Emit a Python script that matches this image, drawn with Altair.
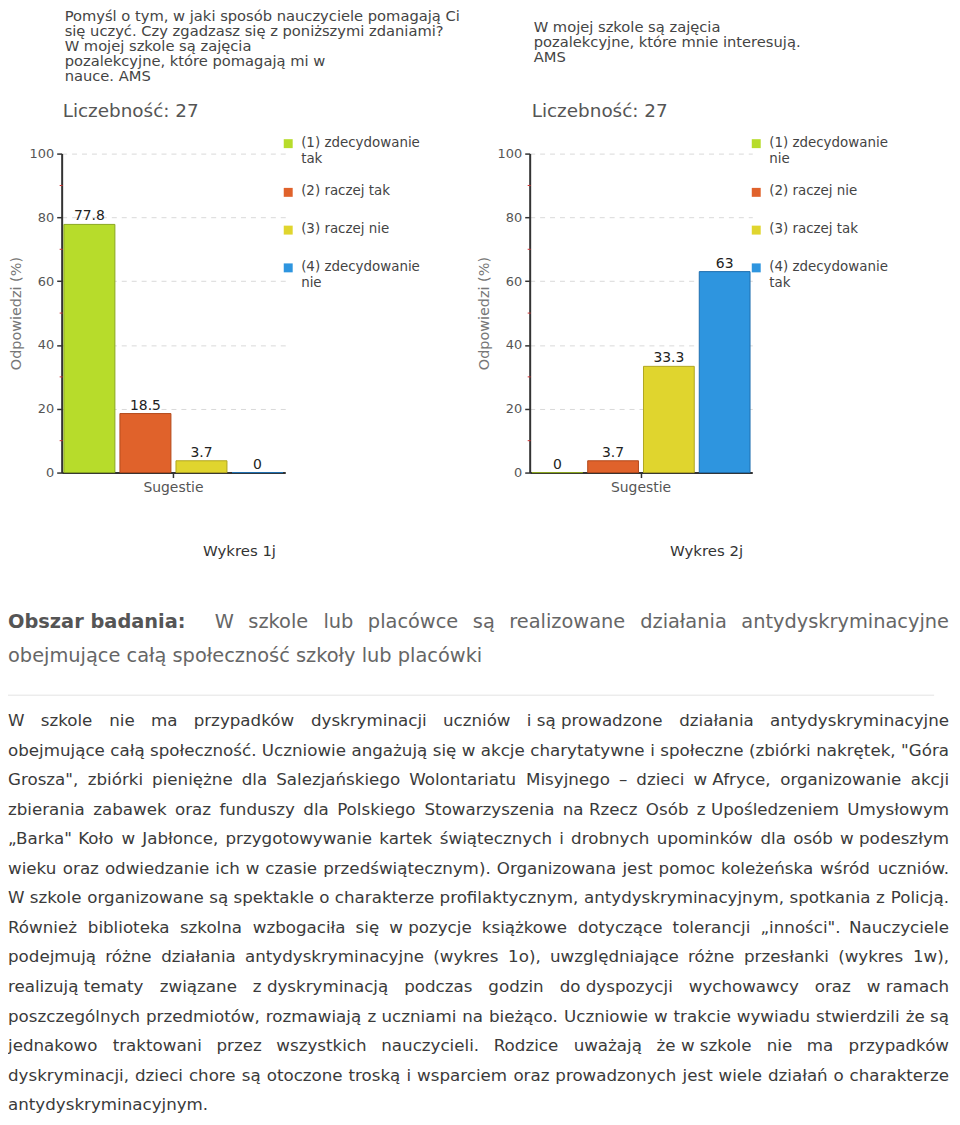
import altair as alt
import pandas as pd

# ------------------------------------------------------------------ data
CATEGORY = ["Sugestie"]
ANSWERS_1 = ["(1) zdecydowanie tak", "(2) raczej tak", "(3) raczej nie", "(4) zdecydowanie nie"]
VALUES_1 = [77.8, 18.5, 3.7, 0]
ANSWERS_2 = ["(1) zdecydowanie nie", "(2) raczej nie", "(3) raczej tak", "(4) zdecydowanie tak"]
VALUES_2 = [0, 3.7, 33.3, 63]
Y_TICKS = [0, 20, 40, 60, 80, 100]
MINOR_TICKS = [10, 30, 50, 70, 90]
AXIS_TITLE = "Odpowiedzi (%)"

TITLE_1 = ["Pomyśl o tym, w jaki sposób nauczyciele pomagają Ci",
           "się uczyć. Czy zgadzasz się z poniższymi zdaniami?",
           "W mojej szkole są zajęcia",
           "pozalekcyjne, które pomagają mi w",
           "nauce. AMS"]
TITLE_2 = ["W mojej szkole są zajęcia",
           "pozalekcyjne, które mnie interesują.",
           "AMS"]
COUNT_TEXT = ["Liczebność: 27", "Liczebność: 27"]
CAPTIONS = ["Wykres 1j", "Wykres 2j"]

HEAD_LABEL = "Obszar badania:"
HEAD_LINE_1 = "W szkole lub placówce są realizowane działania antydyskryminacyjne"
HEAD_LINE_2 = "obejmujące całą społeczność szkoły lub placówki"

BODY_LINES = [
    "W szkole nie ma przypadków dyskryminacji uczniów i\u00a0są\u00a0prowadzone działania antydyskryminacyjne",
    "obejmujące całą społeczność. Uczniowie angażują się w\u00a0akcje charytatywne i społeczne (zbiórki nakrętek, \"Góra",
    "Grosza\", zbiórki pieniężne dla Salezjańskiego Wolontariatu Misyjnego – dzieci w\u00a0Afryce, organizowanie akcji",
    "zbierania zabawek oraz funduszy dla Polskiego Stowarzyszenia na\u00a0Rzecz Osób z\u00a0Upośledzeniem Umysłowym",
    "„Barka\" Koło w Jabłonce, przygotowywanie kartek świątecznych i drobnych upominków dla osób w\u00a0podeszłym",
    "wieku oraz odwiedzanie ich w czasie przedświątecznym). Organizowana jest pomoc koleżeńska wśród uczniów.",
    "W szkole organizowane są spektakle o charakterze profilaktycznym, antydyskryminacyjnym, spotkania z Policją.",
    "Również biblioteka szkolna wzbogaciła się w\u00a0pozycje książkowe dotyczące tolerancji „inności\". Nauczyciele",
    "podejmują różne działania antydyskryminacyjne (wykres 1o), uwzględniające różne przesłanki (wykres 1w),",
    "realizują\u00a0tematy związane z\u00a0dyskryminacją podczas godzin do\u00a0dyspozycji wychowawcy oraz w\u00a0ramach",
    "poszczególnych przedmiotów, rozmawiają z\u00a0uczniami na bieżąco. Uczniowie w trakcie wywiadu stwierdzili że\u00a0są",
    "jednakowo traktowani przez wszystkich nauczycieli. Rodzice uważają że\u00a0w\u00a0szkole nie ma przypadków",
    "dyskryminacji, dzieci chore są otoczone troską i wsparciem oraz prowadzonych jest wiele działań o charakterze",
    "antydyskryminacyjnym.",
]

# ------------------------------------------------------------------ styles / layout
FILLS = ["#b7dc2b", "#e0622b", "#e0d52e", "#2e95df"]
STROKES = ["#8aa61f", "#b24a1c", "#b0a520", "#1f6fae"]
FONT = "DejaVu Sans"
W, H = 950, 1109
PLOT_TOP, PLOT_BOTTOM = 143, 464
PANEL_X = [(54, 279), (525, 749)]
LEGEND_X = [282, 753]
LEGEND_Y0, LEGEND_STEP, LEGEND_EXTRA_LINE = 133, 38, 11

# approximate DejaVu Sans advance widths (units per em = 2048), used to justify text
_W = {' ': 651, '\u00a0': 651, '!': 821, '"': 942, '(': 799, ')': 799, ',': 651, '-': 739, '.': 651,
      ':': 690, '%': 1946, '–': 1024, '„': 842,
      'A': 1401, 'B': 1405, 'C': 1430, 'D': 1577, 'E': 1294, 'F': 1178, 'G': 1587, 'H': 1540, 'I': 604,
      'J': 604, 'K': 1343, 'L': 1141, 'M': 1767, 'N': 1532, 'O': 1612, 'P': 1235, 'Q': 1612, 'R': 1423,
      'S': 1300, 'T': 1251, 'U': 1499, 'V': 1401, 'W': 2025, 'X': 1403, 'Y': 1251, 'Z': 1403,
      'a': 1255, 'b': 1300, 'c': 1126, 'd': 1300, 'e': 1260, 'f': 721, 'g': 1300, 'h': 1298, 'i': 569,
      'j': 569, 'k': 1186, 'l': 569, 'm': 1995, 'n': 1298, 'o': 1253, 'p': 1300, 'q': 1300, 'r': 842,
      's': 1067, 't': 803, 'u': 1298, 'v': 1212, 'w': 1675, 'x': 1212, 'y': 1212, 'z': 1075}
for d in '0123456789':
    _W[d] = 1303
_ACC = {'ą': 'a', 'ć': 'c', 'ę': 'e', 'ł': 'l', 'ń': 'n', 'ó': 'o', 'ś': 's', 'ź': 'z', 'ż': 'z',
        'Ł': 'L', 'Ś': 'S', 'Ó': 'O', 'Ż': 'Z', 'Ź': 'Z', 'Ć': 'C'}


def text_w(s, size):
    return sum(_W.get(_ACC.get(c, c), 1200) for c in s) / 2048.0 * size


def justify(line, x_left, x_right, size):
    tokens = line.split(" ")
    widths = [text_w(t, size) for t in tokens]
    gap = (x_right - x_left - sum(widths)) / max(len(tokens) - 1, 1)
    xs, x = [], x_left
    for w in widths:
        xs.append(x)
        x += w + gap
    return tokens, xs


def text_layer(df, **kw):
    return alt.Chart(df).mark_text(**kw).encode(
        x=alt.X("x:Q", scale=None, axis=None),
        y=alt.Y("y:Q", scale=None, axis=None),
        text=alt.Text("text:N"),
    )


def bar_panel(answers, values, xr):
    df = pd.DataFrame({"cat": CATEGORY * len(answers), "answer": answers, "value": values})
    x = alt.X("cat:N",
              scale=alt.Scale(domain=CATEGORY, range=list(xr), paddingInner=0, paddingOuter=0),
              axis=alt.Axis(orient="bottom", offset=PLOT_BOTTOM - H, title=None, labelAngle=0,
                            labelFont=FONT, labelFontSize=14, labelColor="#555",
                            domainColor="#333", domainWidth=2, tickColor="#333", tickSize=5,
                            tickWidth=1.5, labelPadding=3, grid=False))
    xo = alt.XOffset("answer:N", scale=alt.Scale(domain=answers, paddingInner=0.09, paddingOuter=0.04))
    y = alt.Y("value:Q",
              scale=alt.Scale(domain=[0, 100], range=[PLOT_BOTTOM, PLOT_TOP], nice=False),
              axis=alt.Axis(orient="left", offset=-xr[0], values=Y_TICKS, grid=True,
                            gridDash=[5, 5], gridColor="#d9d9d9", gridWidth=1,
                            domainColor="#333", domainWidth=2, tickColor="#333", tickSize=5,
                            tickWidth=1.5, labelFont=FONT, labelFontSize=13, labelColor="#555",
                            labelPadding=3, title=AXIS_TITLE, titleFont=FONT, titleFontSize=14.5,
                            titleFontWeight="normal", titleColor="#777", titlePadding=6))
    color = alt.Color("answer:N", scale=alt.Scale(domain=answers, range=FILLS), legend=None)
    stroke = alt.Stroke("answer:N", scale=alt.Scale(domain=answers, range=STROKES), legend=None)
    bars = alt.Chart(df).mark_bar(strokeWidth=1).encode(x=x, xOffset=xo, y=y, color=color, stroke=stroke)
    labels = alt.Chart(df).mark_text(baseline="alphabetic", dy=-4, font=FONT, fontSize=14,
                                     color="#222").encode(
        x=alt.X("cat:N"), xOffset=alt.XOffset("answer:N"), y=alt.Y("value:Q"),
        text=alt.Text("value:Q"))
    minor = alt.Chart(pd.DataFrame({"minor": MINOR_TICKS})).mark_rule(
        color="#cc3333", strokeWidth=1).encode(
        y=alt.Y("minor:Q"), x=alt.value(xr[0] - 2), x2=alt.value(xr[0] + 1))
    return alt.layer(bars, minor, labels)


def legend_layers(answers, lx):
    labels = [a.replace("zdecydowanie ", "zdecydowanie\n") for a in answers]
    ys, y = [], LEGEND_Y0
    for lab in labels:
        ys.append(y)
        y += LEGEND_STEP + LEGEND_EXTRA_LINE * lab.count("\n")
    df = pd.DataFrame({"answer": answers, "text": labels, "y": ys,
                       "x": [lx] * len(answers), "tx": [lx + 13] * len(answers)})
    sq = alt.Chart(df).mark_square(size=81, opacity=1).encode(
        x=alt.X("x:Q", scale=None, axis=None), y=alt.Y("y:Q", scale=None, axis=None),
        color=alt.Color("answer:N", scale=alt.Scale(domain=answers, range=FILLS), legend=None))
    tx = alt.Chart(df).mark_text(align="left", baseline="top", dy=-8, font=FONT, fontSize=13.5,
                                 color="#444", lineBreak="\n", lineHeight=16).encode(
        x=alt.X("tx:Q", scale=None, axis=None), y=alt.Y("y:Q", scale=None, axis=None),
        text=alt.Text("text:N"))
    return [sq, tx]


panel1 = bar_panel(ANSWERS_1, VALUES_1, PANEL_X[0])
panel2 = bar_panel(ANSWERS_2, VALUES_2, PANEL_X[1])
leg1 = legend_layers(ANSWERS_1, LEGEND_X[0])
leg2 = legend_layers(ANSWERS_2, LEGEND_X[1])

# titles above the panels
titles_df = pd.DataFrame({"text": ["\n".join(TITLE_1), "\n".join(TITLE_2)],
                          "x": [57, 529], "y": [10, 21]})
titles = text_layer(titles_df, align="left", baseline="alphabetic", font=FONT, fontSize=14.8,
                    color="#444", lineBreak="\n", lineHeight=15)
count_df = pd.DataFrame({"text": COUNT_TEXT, "x": [55, 527], "y": [106, 106]})
counts = text_layer(count_df, align="left", baseline="alphabetic", font=FONT, fontSize=18.5,
                    color="#555")
cap_df = pd.DataFrame({"text": CAPTIONS, "x": [233, 703], "y": [548, 548]})
caps = text_layer(cap_df, align="center", baseline="alphabetic", font=FONT, fontSize=15,
                  color="#333")

# heading
HEAD_SIZE = 19.5
head_bold = text_layer(pd.DataFrame({"text": [HEAD_LABEL], "x": [0], "y": [620]}),
                       align="left", baseline="alphabetic", font=FONT, fontSize=HEAD_SIZE,
                       fontWeight="bold", color="#555")
htoks, hxs = justify(HEAD_LINE_1, 208, 947, HEAD_SIZE)
head_left = text_layer(pd.DataFrame({"text": htoks[:-1] + [HEAD_LINE_2],
                                     "x": hxs[:-1] + [0],
                                     "y": [620] * (len(htoks) - 1) + [655]}),
                       align="left", baseline="alphabetic", font=FONT, fontSize=HEAD_SIZE,
                       color="#666")
head_right = text_layer(pd.DataFrame({"text": [htoks[-1]], "x": [947], "y": [620]}),
                        align="right", baseline="alphabetic", font=FONT, fontSize=HEAD_SIZE,
                        color="#666")

rule = alt.Chart(pd.DataFrame({"a": [0]})).mark_rule(color="#e3e3e3", strokeWidth=1).encode(
    x=alt.value(0), x2=alt.value(932), y=alt.value(688))

# body text, justified
BODY_SIZE = 16.8
BODY_Y0, BODY_DY = 719, 29.75
left_rows, right_rows = [], []
for i, line in enumerate(BODY_LINES):
    yy = BODY_Y0 + i * BODY_DY
    if i == len(BODY_LINES) - 1:
        left_rows.append({"text": line, "x": 0, "y": yy})
        continue
    toks, xs = justify(line, 0, 947, BODY_SIZE)
    for t, xx in zip(toks[:-1], xs[:-1]):
        left_rows.append({"text": t, "x": xx, "y": yy})
    right_rows.append({"text": toks[-1], "x": 947, "y": yy})
body_left = text_layer(pd.DataFrame(left_rows), align="left", baseline="alphabetic", font=FONT,
                       fontSize=BODY_SIZE, color="#3a3a3a")
body_right = text_layer(pd.DataFrame(right_rows), align="right", baseline="alphabetic", font=FONT,
                        fontSize=BODY_SIZE, color="#3a3a3a")

chart = alt.layer(panel1, panel2, *leg1, *leg2, titles, counts, caps, head_bold, head_left,
                  head_right, rule, body_left, body_right).resolve_scale(
    x="independent", y="independent", color="independent", stroke="independent",
    xOffset="independent"
).properties(
    width=W, height=H, padding=0, background="white",
    autosize=alt.AutoSizeParams(type="none")
).configure_view(strokeWidth=0)

chart.save("out.html", embed_options={"renderer": "svg", "actions": False})
